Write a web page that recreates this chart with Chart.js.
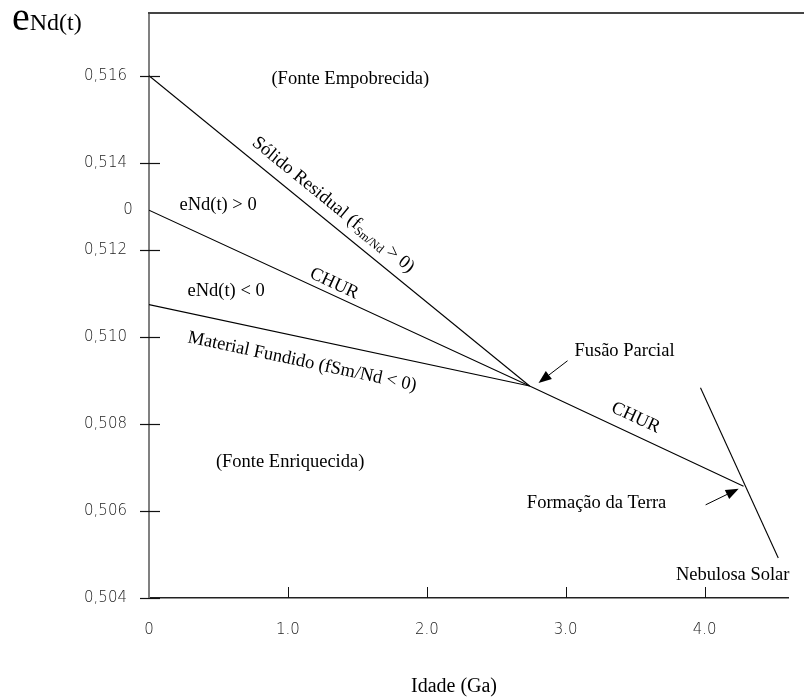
<!DOCTYPE html>
<html>
<head>
<meta charset="utf-8">
<script src="https://cdn.jsdelivr.net/npm/chart.js@4.4.1/dist/chart.umd.min.js"></script>
<style>
  html, body { margin: 0; padding: 0; background: #ffffff; }
  #wrap { width: 804px; height: 699px; position: relative; }
</style>
</head>
<body>
<div id="wrap"><canvas id="chart" width="804" height="699"></canvas></div>
<script>
// Sm-Nd isotopic evolution: 143Nd/144Nd ratio against age (Ga)
const residualAge = [0, 2.74];
const residualNd  = [0.516, 0.50887];
const churAge     = [0, 2.74, 4.28];
const churNd      = [0.51291, 0.50887, 0.50657];
const meltAge     = [0, 2.74];
const meltNd      = [0.51074, 0.50887];
const nebulaAge   = [3.97, 4.53];
const nebulaNd    = [0.50883, 0.50492];

// axis ticks
const xTickValues = [0, 1, 2, 3, 4];
const xTickLabels = ['0', '1.0', '2.0', '3.0', '4.0'];
const yTickValues = [0.504, 0.506, 0.508, 0.510, 0.512, 0.514, 0.516];
const yTickLabels = ['0,504', '0,506', '0,508', '0,510', '0,512', '0,514', '0,516'];
const epsZeroLabel = '0';          // eNd(t) = 0 marker at the CHUR origin
const xAxisTitle = 'Idade (Ga)';

// text notes (position in age / ratio units, rotation in degrees)
const noteText  = ['(Fonte Empobrecida)', 'eNd(t) > 0', 'CHUR', 'eNd(t) < 0',
                   'Material Fundido (fSm/Nd < 0)', 'Fusão Parcial', 'CHUR',
                   'Formação da Terra', 'Nebulosa Solar', '(Fonte Enriquecida)'];
const noteAge   = [1.449, 0.497, 1.333, 0.555, 1.103, 3.423, 3.503, 3.222, 4.202, 1.016];
const noteNd    = [0.51591, 0.51303, 0.51122, 0.51106, 0.50943, 0.50968, 0.50814, 0.50618, 0.50453, 0.50713];
const noteAngle = [0, 0, 24.8, 0, 12, 0, 24.8, 0, 0, 0];

// residual-solid label with subscript
const residualLabel = ['Sólido Residual (f', 'Sm/Nd', ' > 0)'];
const residualLabelAt = [1.326, 0.51303, 39.2];

// arrows: [tailAge, tailNd, headAge, headNd]
const arrowFusion = [3.013, 0.50945, 2.804, 0.50894];
const arrowEarth  = [4.007, 0.50614, 4.245, 0.50651];

const SERIF = '"Liberation Serif", "Times New Roman", serif';
const TICKFONT = '"DejaVu Sans", sans-serif';

function toPoints(xs, ys) { return xs.map((x, i) => ({ x: x, y: ys[i] })); }

function lineSet(xs, ys) {
  return {
    data: toPoints(xs, ys), showLine: true, borderColor: '#000', borderWidth: 1.1,
    pointRadius: 0, pointHoverRadius: 0, fill: false, tension: 0
  };
}

function drawArrow(ctx, x0, y0, x1, y1) {
  const ang = Math.atan2(y1 - y0, x1 - x0);
  const len = 13, half = 5;
  const bx = x1 - len * Math.cos(ang), by = y1 - len * Math.sin(ang);
  ctx.beginPath();
  ctx.moveTo(x0, y0);
  ctx.lineTo(bx, by);
  ctx.lineWidth = 1;
  ctx.strokeStyle = '#000';
  ctx.stroke();
  ctx.beginPath();
  ctx.moveTo(x1, y1);
  ctx.lineTo(bx + half * Math.sin(ang), by - half * Math.cos(ang));
  ctx.lineTo(bx - half * Math.sin(ang), by + half * Math.cos(ang));
  ctx.closePath();
  ctx.fillStyle = '#000';
  ctx.fill();
}

const decorations = {
  id: 'decorations',
  afterDatasetsDraw(chart) {
    const { ctx, chartArea, scales: { x, y } } = chart;
    ctx.save();

    // top frame line running to the canvas edge
    ctx.strokeStyle = '#444';
    ctx.lineWidth = 2;
    ctx.beginPath();
    ctx.moveTo(chartArea.left - 1, chartArea.top);
    ctx.lineTo(chart.width, chartArea.top);
    ctx.stroke();

    // y tick marks crossing the axis
    ctx.strokeStyle = '#111';
    ctx.lineWidth = 1.2;
    yTickValues.forEach(v => {
      const py = Math.round(y.getPixelForValue(v)) + 0.5;
      ctx.beginPath();
      ctx.moveTo(chartArea.left - 9, py);
      ctx.lineTo(chartArea.left + 11, py);
      ctx.stroke();
    });

    // x tick marks rising from the axis
    ctx.lineWidth = 1;
    xTickValues.slice(1).forEach(v => {
      const px = Math.round(x.getPixelForValue(v)) + 0.5;
      ctx.beginPath();
      ctx.moveTo(px, chartArea.bottom - 11);
      ctx.lineTo(px, chartArea.bottom);
      ctx.stroke();
    });

    // arrows
    [arrowFusion, arrowEarth].forEach(a => {
      drawArrow(ctx, x.getPixelForValue(a[0]), y.getPixelForValue(a[1]),
                     x.getPixelForValue(a[2]), y.getPixelForValue(a[3]));
    });

    // notes
    ctx.fillStyle = '#000';
    ctx.textAlign = 'center';
    ctx.textBaseline = 'middle';
    ctx.font = '18.5px ' + SERIF;
    noteText.forEach((t, i) => {
      ctx.save();
      ctx.translate(x.getPixelForValue(noteAge[i]), y.getPixelForValue(noteNd[i]));
      ctx.rotate(noteAngle[i] * Math.PI / 180);
      ctx.fillText(t, 0, 0);
      ctx.restore();
    });

    // residual-solid label with subscript
    ctx.save();
    ctx.translate(x.getPixelForValue(residualLabelAt[0]), y.getPixelForValue(residualLabelAt[1]));
    ctx.rotate(residualLabelAt[2] * Math.PI / 180);
    ctx.textAlign = 'left';
    const fMain = '18.5px ' + SERIF, fSub = '12px ' + SERIF;
    ctx.font = fMain;
    const w0 = ctx.measureText(residualLabel[0]).width;
    const w2 = ctx.measureText(residualLabel[2]).width;
    ctx.font = fSub;
    const w1 = ctx.measureText(residualLabel[1]).width;
    let cx = -(w0 + w1 + w2) / 2;
    ctx.font = fMain;
    ctx.fillText(residualLabel[0], cx, 0); cx += w0;
    ctx.font = fSub;
    ctx.fillText(residualLabel[1], cx, 5); cx += w1;
    ctx.font = fMain;
    ctx.fillText(residualLabel[2], cx, 0);
    ctx.restore();

    // eNd(t) zero marker beside the axis
    ctx.font = '300 15px ' + TICKFONT;
    ctx.fillStyle = '#222';
    ctx.textAlign = 'center';
    ctx.fillText(epsZeroLabel, chartArea.left - 21, y.getPixelForValue(churNd[0]));

    // horizontal axis title
    ctx.fillStyle = '#000';
    ctx.font = '20px ' + SERIF;
    ctx.fillText(xAxisTitle, 454, 687);

    // vertical axis title
    ctx.textAlign = 'left';
    ctx.textBaseline = 'alphabetic';
    ctx.font = '40px ' + SERIF;
    ctx.fillText('e', 12, 30);
    const ew = ctx.measureText('e').width;
    ctx.font = '24px ' + SERIF;
    ctx.fillText('Nd(t)', 12 + ew, 30);

    ctx.restore();
  }
};

new Chart(document.getElementById('chart'), {
  type: 'scatter',
  data: {
    datasets: [
      lineSet(residualAge, residualNd),
      lineSet(churAge, churNd),
      lineSet(meltAge, meltNd),
      lineSet(nebulaAge, nebulaNd)
    ]
  },
  options: {
    responsive: false,
    animation: false,
    events: [],
    layout: { padding: { top: 13, right: 16, left: 0, bottom: 0 } },
    plugins: { legend: { display: false }, tooltip: { enabled: false }, title: { display: false } },
    scales: {
      x: {
        type: 'linear', position: 'bottom', min: 0, max: 4.6,
        afterBuildTicks: s => { s.ticks = xTickValues.map(v => ({ value: v })); },
        afterFit: s => { s.height = 101; },
        grid: { drawOnChartArea: false, drawTicks: true, tickLength: 23, tickColor: 'rgba(0,0,0,0)' },
        border: { display: true, color: '#222', width: 1.5 },
        ticks: {
          padding: 0, color: '#222', maxRotation: 0, autoSkip: false,
          font: { family: TICKFONT, size: 15, weight: '300' },
          callback: v => { const i = xTickValues.indexOf(v); return i >= 0 ? xTickLabels[i] : ''; }
        },
        title: { display: false }
      },
      y: {
        type: 'linear', position: 'left', min: 0.504, max: 0.51744,
        afterBuildTicks: s => { s.ticks = yTickValues.map(v => ({ value: v })); },
        afterFit: s => { s.width = 149; },
        grid: { drawOnChartArea: false, drawTicks: true, tickLength: 22, tickColor: 'rgba(0,0,0,0)' },
        border: { display: true, color: '#808080', width: 2 },
        ticks: {
          padding: 0, color: '#222', autoSkip: false,
          font: { family: TICKFONT, size: 15, weight: '300' },
          callback: v => { const i = yTickValues.indexOf(v); return i >= 0 ? yTickLabels[i] : ''; }
        }
      }
    }
  },
  plugins: [decorations]
});
</script>
</body>
</html>
